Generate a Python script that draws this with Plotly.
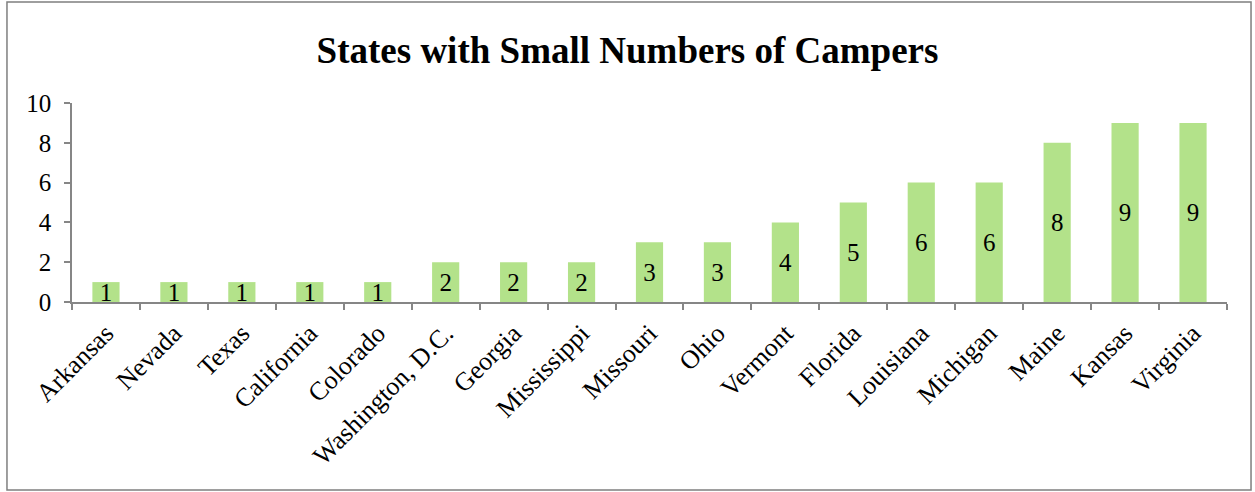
import plotly.graph_objects as go

states = ["Arkansas", "Nevada", "Texas", "California", "Colorado", "Washington, D.C.",
          "Georgia", "Mississippi", "Missouri", "Ohio", "Vermont", "Florida",
          "Louisiana", "Michigan", "Maine", "Kansas", "Virginia"]
campers = [1, 1, 1, 1, 1, 2, 2, 2, 3, 3, 4, 5, 6, 6, 8, 9, 9]

FONT = "Liberation Serif, Times New Roman, serif"
AXIS = "#868686"

fig = go.Figure(go.Bar(
    x=states, y=campers,
    marker=dict(color="#B3E28A", line=dict(width=0)),
    text=[str(v) for v in campers],
    textposition="inside", insidetextanchor="middle",
    constraintext="none", textangle=0,
    textfont=dict(family=FONT, size=25, color="black"),
    hoverinfo="x+y",
))

fig.update_layout(
    width=1255, height=492,
    margin=dict(l=72, r=28, t=103, b=190),
    paper_bgcolor="white", plot_bgcolor="white",
    bargap=0.6,
    showlegend=False,
    title=dict(text="<b>States with Small Numbers of Campers</b>",
               x=0.5, xanchor="center", y=0.898, yanchor="middle",
               font=dict(family=FONT, size=37, color="black")),
    font=dict(family=FONT, size=25, color="black"),
    xaxis=dict(
        showline=True, linecolor=AXIS, linewidth=1.5,
        ticks="outside", tickson="boundaries", ticklen=6, tickcolor=AXIS, tickwidth=1.5,
        tickangle=-45, tickfont=dict(family=FONT, size=26, color="black"),
        ticklabelstandoff=4,
        showgrid=False, zeroline=False, automargin=False,
    ),
    yaxis=dict(
        range=[0, 10], dtick=2, tick0=0,
        showline=True, linecolor=AXIS, linewidth=1.5,
        ticks="outside", ticklen=6, tickcolor=AXIS, tickwidth=1.5,
        tickfont=dict(family=FONT, size=25, color="black"),
        ticklabelstandoff=8,
        showgrid=False, zeroline=False, automargin=False,
    ),
    shapes=[dict(type="rect", xref="paper", yref="paper",
                 x0=-0.0563, x1=1.0208, y0=-0.945, y1=1.5075,
                 line=dict(color="#7F7F7F", width=1.5), fillcolor="rgba(0,0,0,0)",
                 layer="below")],
)

fig.write_html("out.html", config={"displayModeBar": False},
               post_script="document.body.style.margin='0';document.body.style.overflow='hidden';")
